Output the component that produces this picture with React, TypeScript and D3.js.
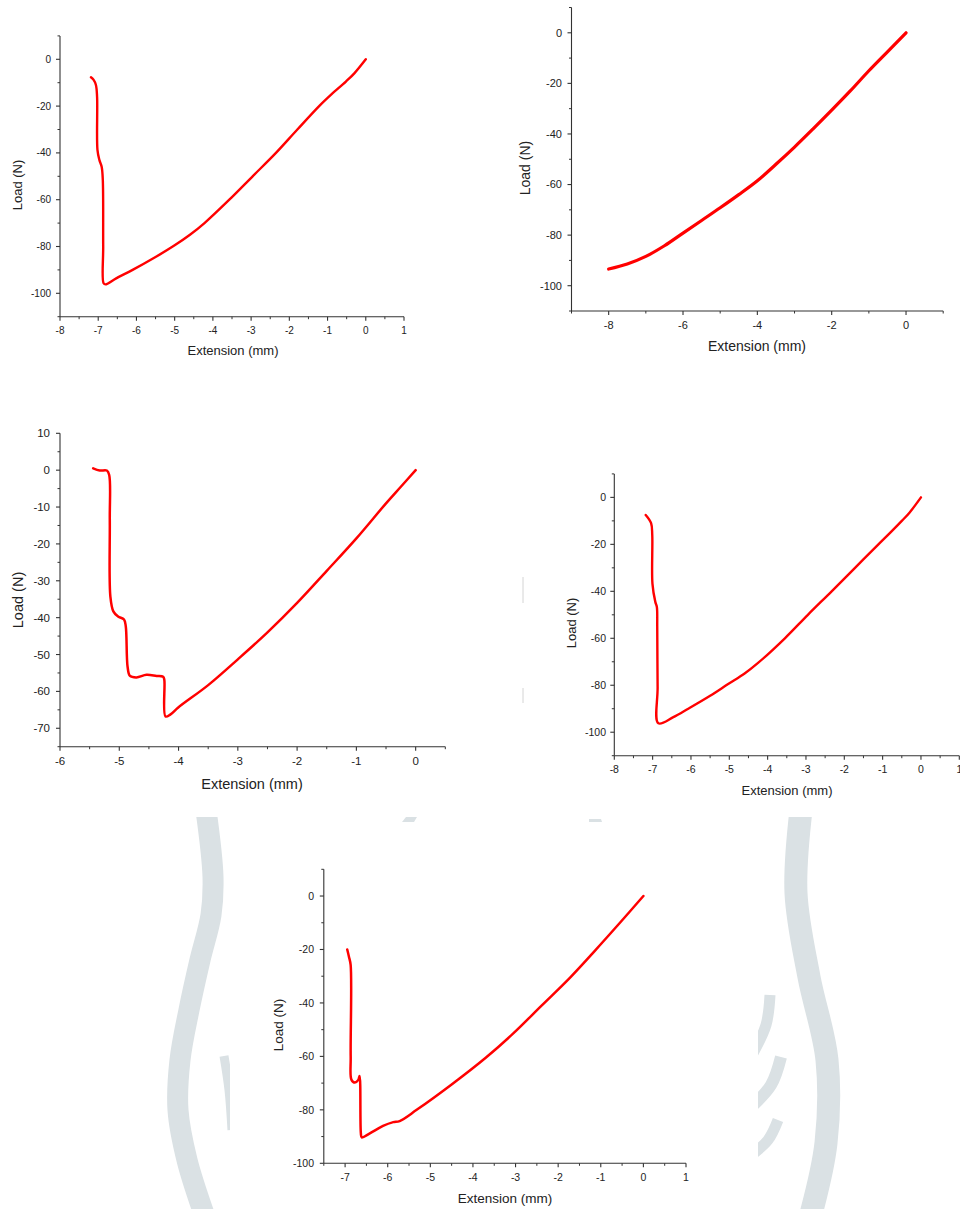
import React from "react";
import * as d3 from "d3";

// ---------------- data ----------------
const p1Ext = [-7.19, -7.12, -7.06, -7.03, -7.02, -6.97, -6.91, -6.88, -6.87, -6.86, -6.81, -6.53, -6.1, -5.5, -5.0, -4.6, -4.22, -3.57, -2.96, -2.35, -1.79, -1.22, -0.9, -0.52, -0.3, 0];
const p1Load = [-7.7, -8.8, -11, -16, -38.7, -43, -45.9, -51.6, -80, -95.7, -96.2, -93.6, -90, -84.5, -79.5, -75, -70, -60, -50, -40, -30, -20, -15, -9.5, -6, 0];

const p2Ext = [-8, -7.5, -7, -6.5, -6, -5.5, -5, -4.5, -4, -3.5, -3, -2.5, -2, -1.5, -1, -0.5, 0];
const p2Load = [-93.4, -91.4, -88.4, -84.2, -79.2, -74.2, -69.2, -64, -58.5, -52, -45.2, -38, -30.6, -23, -15, -7.5, 0];

const p3Ext = [-5.44, -5.33, -5.21, -5.17, -5.16, -5.15, -5.1, -5.02, -4.92, -4.89, -4.86, -4.82, -4.71, -4.54, -4.37, -4.26, -4.24, -4.22, -4.14, -4, -3.5, -3, -2.5, -2, -1.5, -1, -0.5, -0.25, 0];
const p3Load = [0.5, -0.1, -0.1, -1.3, -13.5, -34.3, -38.3, -39.7, -40.5, -42.4, -53.3, -55.8, -56.2, -55.5, -55.8, -56.0, -56.9, -66.8, -66.3, -64.3, -58.3, -51.3, -44, -36, -27.3, -18.5, -9, -4.5, 0];

const p4Ext = [-7.18, -7.04, -7.01, -7.005, -6.93, -6.89, -6.88, -6.87, -6.85, -6.46, -6.07, -5.5, -5.03, -4.6, -4.25, -3.55, -2.95, -2.33, -1.72, -1.11, -0.8, -0.5, -0.3, 0];
const p4Load = [-7.5, -11, -16, -36.7, -44.5, -46.7, -55, -80.8, -96.2, -93.6, -90, -84.5, -79.5, -75, -70.5, -60, -50, -40, -30, -20, -15, -10, -6.5, 0];

const p5Ext = [-6.95, -6.91, -6.87, -6.869, -6.85, -6.77, -6.69, -6.66, -6.63, -6.61, -6.42, -6.11, -5.87, -5.72, -5.32, -4.5, -3.7, -3.06, -2.39, -1.72, -1.14, -0.55, 0];
const p5Load = [-20, -22.7, -25.8, -60.1, -68.8, -69.8, -68.8, -67.3, -88.8, -90.3, -88.8, -86, -84.6, -84.2, -80, -70.5, -60.5, -51.5, -41, -30.5, -20.5, -10, 0];

// tick labels
const p1XTicks = [-8, -7, -6, -5, -4, -3, -2, -1, 0, 1];
const p1YTicks = [0, -20, -40, -60, -80, -100];
const p2XTicks = [-8, -6, -4, -2, 0];
const p2YTicks = [0, -20, -40, -60, -80, -100];
const p3XTicks = [-6, -5, -4, -3, -2, -1, 0];
const p3YTicks = [10, 0, -10, -20, -30, -40, -50, -60, -70];
const p4XTicks = [-8, -7, -6, -5, -4, -3, -2, -1, 0, 1];
const p4YTicks = [0, -20, -40, -60, -80, -100];
const p5XTicks = [-7, -6, -5, -4, -3, -2, -1, 0, 1];
const p5YTicks = [0, -20, -40, -60, -80, -100];

// background watermark paths (decoration)
const wmLeft: [number, number][] = [[206, 810], [213, 877], [211, 915], [200, 960], [189, 1010], [180, 1060], [178, 1110], [187, 1160], [204, 1214]];
const wmRight: [number, number][] = [[801, 810], [796, 893], [809, 977], [827, 1060], [826, 1143], [811, 1214]];
const wmA: [number, number][] = [[770, 995], [766, 1025], [752, 1055]];
const wmB: [number, number][] = [[781, 1057], [771, 1085], [750, 1108]];
const wmC: [number, number][] = [[778, 1120], [768, 1140], [750, 1156]];
const wmSmall: [number, number][] = [[224, 1056], [229, 1090], [232, 1130]];

const FONT = "'Liberation Sans', Arial, Helvetica, sans-serif";
const RED = "#ff0000";
const AXIS = "#333";
const WM = "#dae1e4";

interface PanelCfg {
  ext: number[];
  load: number[];
  xDomain: [number, number];
  yDomain: [number, number];
  xRange: [number, number];
  yRange: [number, number];
  xTicks: number[];
  yTicks: number[];
  xMinorStep: number;
  yMinorStep: number;
  tickFont: number;
  titleFont: number;
  xTickBase: number;
  yTickRight: number;
  xTitle: [number, number];
  yTitle: [number, number];
  stroke: number;
}

const panels: PanelCfg[] = [
  {
    ext: p1Ext, load: p1Load, xDomain: [-8, 1], yDomain: [-110, 10], xRange: [60, 404], yRange: [316.7, 35.9],
    xTicks: p1XTicks, yTicks: p1YTicks, xMinorStep: 0.5, yMinorStep: 10, tickFont: 10, titleFont: 13,
    xTickBase: 334, yTickRight: 51, xTitle: [233, 355], yTitle: [17, 185], stroke: 2.4,
  },
  {
    ext: p2Ext, load: p2Load, xDomain: [-9, 1], yDomain: [-110, 10], xRange: [571.5, 943.2], yRange: [311, 7.5],
    xTicks: p2XTicks, yTicks: p2YTicks, xMinorStep: 1, yMinorStep: 10, tickFont: 11, titleFont: 14,
    xTickBase: 328.5, yTickRight: 562, xTitle: [757, 351], yTitle: [525, 168], stroke: 3.2,
  },
  {
    ext: p3Ext, load: p3Load, xDomain: [-6, 0.5], yDomain: [-75, 10], xRange: [60, 445.3], yRange: [746.7, 433.3],
    xTicks: p3XTicks, yTicks: p3YTicks, xMinorStep: 0.5, yMinorStep: 5, tickFont: 11.5, titleFont: 14.5,
    xTickBase: 765, yTickRight: 50, xTitle: [252, 789], yTitle: [18, 600], stroke: 2.5,
  },
  {
    ext: p4Ext, load: p4Load, xDomain: [-8, 1], yDomain: [-110, 10], xRange: [614.3, 959.3], yRange: [755.7, 473.9],
    xTicks: p4XTicks, yTicks: p4YTicks, xMinorStep: 0.5, yMinorStep: 10, tickFont: 10.5, titleFont: 13,
    xTickBase: 773, yTickRight: 606, xTitle: [787, 794.5], yTitle: [571, 623], stroke: 2.4,
  },
  {
    ext: p5Ext, load: p5Load, xDomain: [-7.5, 1], yDomain: [-100, 10], xRange: [323.8, 686], yRange: [1163.3, 869.3],
    xTicks: p5XTicks, yTicks: p5YTicks, xMinorStep: 0.5, yMinorStep: 10, tickFont: 10.5, titleFont: 13.5,
    xTickBase: 1181, yTickRight: 314, xTitle: [505, 1203], yTitle: [278, 1025], stroke: 2.5,
  },
];

function Panel({ cfg }: { cfg: PanelCfg }) {
  const x = d3.scaleLinear().domain(cfg.xDomain).range(cfg.xRange);
  const y = d3.scaleLinear().domain(cfg.yDomain).range(cfg.yRange);
  const pts = cfg.ext.map((e, i) => [e, cfg.load[i]] as [number, number]);
  const line = d3
    .line<[number, number]>()
    .x((d) => x(d[0]))
    .y((d) => y(d[1]))
    .curve(d3.curveCatmullRom.alpha(0.5));
  const eps = 1e-6;
  const xMinor = d3.range(cfg.xDomain[0], cfg.xDomain[1] + eps, cfg.xMinorStep).filter((v) => !cfg.xTicks.some((t) => Math.abs(t - v) < eps));
  const yMinor = d3.range(cfg.yDomain[0], cfg.yDomain[1] + eps, cfg.yMinorStep).filter((v) => !cfg.yTicks.some((t) => Math.abs(t - v) < eps));
  const x0 = cfg.xRange[0];
  const yb = cfg.yRange[0];
  return (
    <g>
      <path d={line(pts) || ""} fill="none" stroke={RED} strokeWidth={cfg.stroke} strokeLinejoin="round" strokeLinecap="round" />
      <line x1={x0} x2={x0} y1={cfg.yRange[1]} y2={yb} stroke={AXIS} strokeWidth={1.1} />
      <line x1={x0} x2={cfg.xRange[1]} y1={yb} y2={yb} stroke={AXIS} strokeWidth={1.1} />
      {cfg.xTicks.map((t) => (
        <g key={"xt" + t}>
          <line x1={x(t)} x2={x(t)} y1={yb} y2={yb + 4} stroke={AXIS} strokeWidth={1.1} />
          <text x={x(t)} y={cfg.xTickBase} textAnchor="middle" fontSize={cfg.tickFont} fontFamily={FONT} fill="#222">{String(t)}</text>
        </g>
      ))}
      {xMinor.map((t) => (
        <line key={"xm" + t} x1={x(t)} x2={x(t)} y1={yb} y2={yb + 2.5} stroke={AXIS} strokeWidth={1} />
      ))}
      {cfg.yTicks.map((t) => (
        <g key={"yt" + t}>
          <line x1={x0 - 4} x2={x0} y1={y(t)} y2={y(t)} stroke={AXIS} strokeWidth={1.1} />
          <text x={cfg.yTickRight} y={y(t)} dy="0.35em" textAnchor="end" fontSize={cfg.tickFont} fontFamily={FONT} fill="#222">{String(t)}</text>
        </g>
      ))}
      {yMinor.map((t) => (
        <line key={"ym" + t} x1={x0 - 2.5} x2={x0} y1={y(t)} y2={y(t)} stroke={AXIS} strokeWidth={1} />
      ))}
      <text x={cfg.xTitle[0]} y={cfg.xTitle[1]} textAnchor="middle" fontSize={cfg.titleFont} fontFamily={FONT} fill="#222">Extension (mm)</text>
      <text transform={`translate(${cfg.yTitle[0]},${cfg.yTitle[1]}) rotate(-90)`} textAnchor="middle" dy="0.35em" fontSize={cfg.titleFont} fontFamily={FONT} fill="#222">Load (N)</text>
    </g>
  );
}

export default function App() {
  const curve = d3.line().curve(d3.curveCatmullRom.alpha(0.5));
  return (
    <svg width={960} height={1209} style={{ position: "absolute", left: 0, top: 0, display: "block", background: "#fff" }}>
      <rect x={0} y={0} width={960} height={1209} fill="#fff" />
      {/* watermark */}
      <g fill="none" stroke={WM} strokeLinecap="butt">
        <path d={curve(wmLeft) || ""} strokeWidth={21} />
        <path d={curve(wmRight) || ""} strokeWidth={23} />
        <path d={curve(wmA) || ""} strokeWidth={11} />
        <path d={curve(wmB) || ""} strokeWidth={12} />
        <path d={curve(wmC) || ""} strokeWidth={11} />
        <path d={curve(wmSmall) || ""} strokeWidth={9} />
      </g>
      <polygon points="406,817 417,817 414,822 402,822" fill={WM} />
      <polygon points="589,819 601,819 602,822 589,822" fill={WM} />
      <rect x={0} y={0} width={960} height={817} fill="#fff" />
      <rect x={230} y={823} width={528} height={386} fill="#fff" />
      <line x1={523} x2={523} y1={577} y2={603} stroke="#d4d4d4" strokeWidth={1} />
      <line x1={523} x2={523} y1={688} y2={703} stroke="#d4d4d4" strokeWidth={1} />
      {panels.map((p, i) => (
        <Panel key={i} cfg={p} />
      ))}
    </svg>
  );
}
